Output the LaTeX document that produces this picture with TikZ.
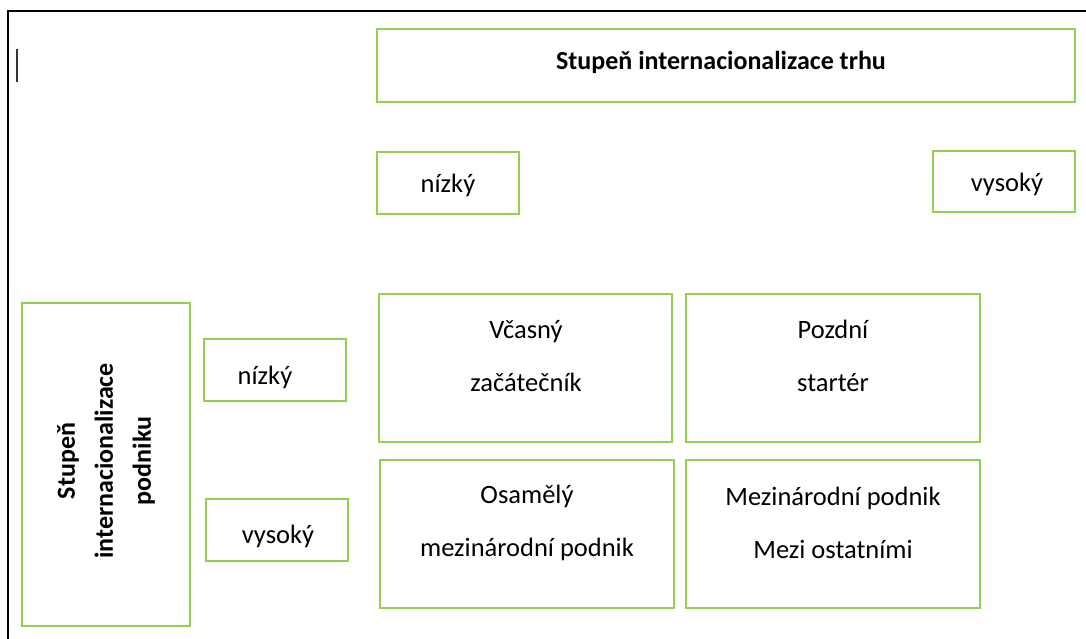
\documentclass[tikz,border=0pt]{standalone}
\usepackage{fontspec}
\setmainfont{Carlito}
\definecolor{boxgreen}{RGB}{146,208,80}
\begin{document}
\begin{tikzpicture}[x=1pt,y=-1pt,
  box/.style={draw=boxgreen, line width=1.6pt, inner sep=0pt},
  txt/.style={font=\fontsize{26.5}{53}\selectfont, align=center, inner sep=0pt},
  btxt/.style={font=\fontsize{26}{38}\selectfont\bfseries, align=center, inner sep=0pt}]
\useasboundingbox (0,0) rectangle (1086,639);
\coordinate (fa) at (1086,11);
\coordinate (fb) at (8,11);
\coordinate (fc) at (8,639);
\draw[line width=2.3pt, black] (fa) -- (fb) -- (fc);
\coordinate (cu1) at (17,49);
\coordinate (cu2) at (17,82);
\draw[line width=1.4pt, black!80] (cu1) -- (cu2);
% top row
\node[box, minimum width=698pt, minimum height=73pt] (title) at (726,65.5) {};
\node[btxt] (titlet) at (721,62) {Stupeň internacionalizace trhu};
\node[box, minimum width=142pt, minimum height=62pt] (tn) at (448,183) {};
\node[txt] (tnt) at (448,185) {nízký};
\node[box, minimum width=142pt, minimum height=61pt] (tv) at (1004,181.5) {};
\node[txt] (tvt) at (1007,184) {vysoký};
% left column
\node[box, minimum width=168pt, minimum height=323pt] (lb) at (106,464.5) {};
\node[btxt, rotate=90] (lbt) at (106,461) {Stupeň\\internacionalizace\\podniku};
\node[box, minimum width=142pt, minimum height=62pt] (ln) at (275,370) {};
\node[txt] (lnt) at (265,377) {nízký};
\node[box, minimum width=142pt, minimum height=62pt] (lv) at (277,530) {};
\node[txt] (lvt) at (278,536) {vysoký};
% grid
\node[box, minimum width=293pt, minimum height=148pt] (c1) at (525.5,368) {};
\node[txt] (c1t) at (526,356) {Včasný\\začátečník};
\node[box, minimum width=294pt, minimum height=148pt] (c2) at (833,368) {};
\node[txt] (c2t) at (833,356) {Pozdní\\startér};
\node[box, minimum width=294pt, minimum height=148pt] (c3) at (527,534) {};
\node[txt] (c3t) at (527,523) {Osamělý\\mezinárodní podnik};
\node[box, minimum width=294pt, minimum height=148pt] (c4) at (833,534) {};
\node[txt] (c4t) at (833,523) {Mezinárodní podnik\\Mezi ostatními};
\end{tikzpicture}
\end{document}
